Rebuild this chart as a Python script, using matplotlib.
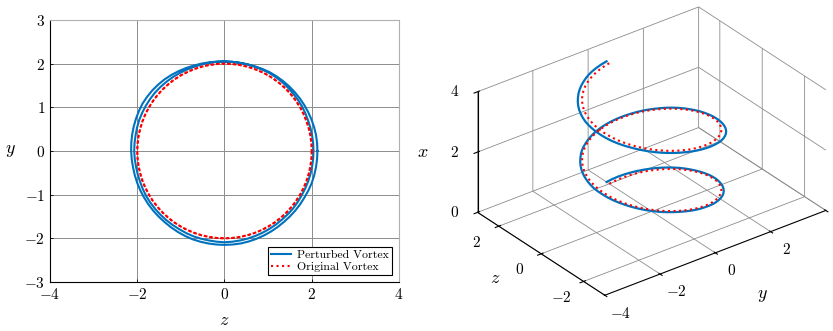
import numpy as np
import matplotlib
matplotlib.use("Agg")
import matplotlib.pyplot as plt
from mpl_toolkits.mplot3d import proj3d

plt.rcParams['mathtext.fontset'] = 'cm'
plt.rcParams['font.family'] = 'serif'
plt.rcParams['font.serif'] = ['cmr10']
plt.rcParams['axes.formatter.use_mathtext'] = True

# vortex filament sampled every 5 degrees of winding (two full turns)
angle_deg = list(range(0, 721, 5))
pitch = 2.0  # rise in x per turn
r_original = [2.0] * len(angle_deg)
r_perturbed = [
    # first turn, 0..355 deg (one row = 60 deg)
    2.13, 2.13, 2.13, 2.125, 2.12, 2.115, 2.11, 2.105, 2.10, 2.095, 2.09, 2.085,
    2.08, 2.07, 2.06, 2.055, 2.05, 2.05, 2.05, 2.05, 2.05, 2.05, 2.05, 2.055,
    2.06, 2.065, 2.07, 2.075, 2.08, 2.08, 2.08, 2.08, 2.08, 2.075, 2.07, 2.07,
    2.07, 2.065, 2.06, 2.06, 2.06, 2.065, 2.07, 2.07, 2.07, 2.07, 2.07, 2.07,
    2.07, 2.075, 2.08, 2.08, 2.08, 2.085, 2.09, 2.085, 2.08, 2.075, 2.07, 2.065,
    2.06, 2.055, 2.05, 2.05, 2.05, 2.045, 2.04, 2.04, 2.04, 2.04, 2.04, 2.04,
    # second turn, 360..720 deg
    2.04, 2.04, 2.04, 2.04, 2.04, 2.045, 2.05, 2.05, 2.05, 2.055, 2.06, 2.06,
    2.06, 2.055, 2.05, 2.05, 2.05, 2.05, 2.05, 2.055, 2.06, 2.07, 2.08, 2.095,
    2.11, 2.125, 2.14, 2.15, 2.16, 2.165, 2.17, 2.165, 2.16, 2.155, 2.15, 2.145,
    2.14, 2.135, 2.13, 2.13, 2.13, 2.13, 2.13, 2.13, 2.13, 2.13, 2.13, 2.135,
    2.14, 2.145, 2.15, 2.15, 2.15, 2.15, 2.15, 2.15, 2.15, 2.145, 2.14, 2.135,
    2.13, 2.125, 2.12, 2.12, 2.12, 2.12, 2.12, 2.125, 2.13, 2.13, 2.13, 2.13,
    2.13,
]

y3_ticks = [-4, -2, 0, 2, 4]
z3_ticks = [-2, 0, 2]
x3_ticks = [0, 2, 4]

blue = '#0072BD'
grid_c = '#8c8c8c'


def to_xyz(r):
    th = np.radians(angle_deg)
    r = np.asarray(r)
    x = pitch * np.asarray(angle_deg) / 360.0
    return x, r * np.sin(th), r * np.cos(th)


xp, yp, zp = to_xyz(r_perturbed)
xo, yo, zo = to_xyz(r_original)

fig = plt.figure(figsize=(8.33, 3.31), dpi=100)

# ---- left: projection onto the z-y plane
ax1 = fig.add_axes([50 / 833, 49 / 331, 349 / 833, 262 / 331])
ax1.plot(zp, yp, color=blue, lw=1.5, label='Perturbed Vortex')
ax1.plot(zo, yo, color='red', ls=':', lw=1.5, label='Original Vortex')
ax1.set_xlim(-4, 4)
ax1.set_ylim(-3, 3)
ax1.set_xticks([-4, -2, 0, 2, 4])
ax1.set_yticks([-3, -2, -1, 0, 1, 2, 3])
ax1.grid(True, color=grid_c, lw=0.7)
ax1.set_axisbelow(True)
ax1.tick_params(direction='in', length=2, labelsize=11, width=0.6)
for s in ['top', 'right']:
    ax1.spines[s].set_color('#b0b0b0')
ax1.set_xlabel('$z$', fontsize=13, labelpad=8)
ax1.set_ylabel('$y$', fontsize=13, rotation=0, labelpad=10, va='center')
leg = ax1.legend(loc='lower right', fontsize=8.5, fancybox=False, edgecolor='black',
                 framealpha=1, borderpad=0.25, handlelength=1.7, handletextpad=0.5,
                 labelspacing=0.15, borderaxespad=0.6)
leg.get_frame().set_linewidth(0.8)

# ---- right: the helix in 3D
ax2 = fig.add_axes([0.542, 0.03, 0.47, 1.0], projection='3d')
ax2.plot(yp, zp, xp, color=blue, lw=1.6)
ax2.plot(yo, zo, xo, color='red', ls=':', lw=1.5)
ax2.set_xlim(-4, 4)
ax2.set_ylim(-3, 3)
ax2.set_zlim(0, 4)
ax2.set_xticks(y3_ticks)
ax2.set_yticks(z3_ticks)
ax2.set_zticks(x3_ticks)
ax2.set_box_aspect((8, 6, 4), zoom=1.10)
ax2.set_proj_type('ortho')
ax2.view_init(elev=30, azim=-127.5)
for a in (ax2.xaxis, ax2.yaxis, ax2.zaxis):
    a.set_pane_color((1, 1, 1, 0))
    a._axinfo['grid']['color'] = grid_c
    a._axinfo['grid']['linewidth'] = 0.6
    a.set_tick_params(label1On=False, label2On=False)

# tick labels hung just outside the box edges, MATLAB style:
# project the 3d anchor point and put a plain figure text there
fig.canvas.draw()
M = ax2.get_proj()


def tick_label(x, y, z, s, **kw):
    px, py, _ = proj3d.proj_transform(x, y, z, M)
    fx, fy = fig.transFigure.inverted().transform(ax2.transData.transform((px, py)))
    fig.text(fx, fy, s, fontsize=11, **kw)


for v in y3_ticks:
    tick_label(v, -3.75, 0, f'${v}$', ha='center', va='top')
for v in z3_ticks:
    tick_label(-4.8, v, 0, f'${v}$', ha='center', va='top')
for v in x3_ticks:
    tick_label(-4.42, 3.32, v, f'${v}$', ha='right', va='center')

# axis labels placed where the reference has them
fig.text(423 / 833, 1 - 152 / 331, '$x$', fontsize=13, ha='center', va='center')
fig.text(495 / 833, 1 - 278 / 331, '$z$', fontsize=13, ha='center', va='center')
fig.text(762 / 833, 1 - 296 / 331, '$y$', fontsize=13, ha='center', va='center')

fig.savefig('out.png', dpi=100)
